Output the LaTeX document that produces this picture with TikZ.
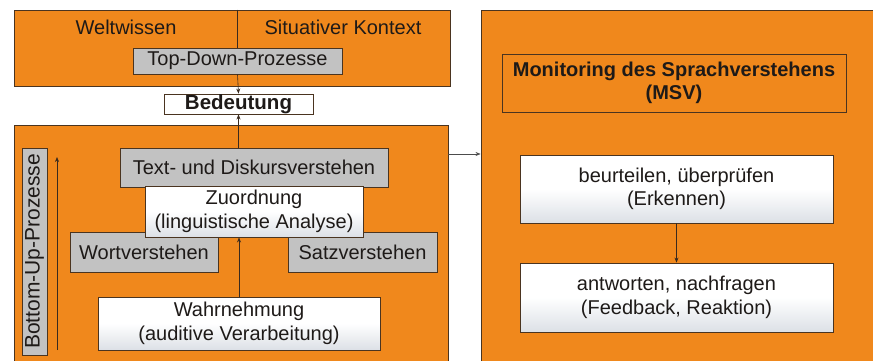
\documentclass[tikz,border=0pt]{standalone}
\usepackage{fontspec}
\setmainfont{Liberation Sans}
\usetikzlibrary{arrows.meta}
\definecolor{org}{HTML}{F0881C}
\definecolor{bord}{HTML}{4A3420}
\definecolor{grayfill}{HTML}{C2C2C2}
\definecolor{wbot}{HTML}{DCE0E6}
\definecolor{arr}{HTML}{3A2A1E}
\definecolor{txtc}{HTML}{1E1A18}
\tikzset{
  base/.style={draw=bord, line width=0.9pt, inner sep=0pt, align=center, text=txtc,
    font=\fontsize{20}{23.5}\selectfont},
  orangebox/.style={base, fill=org},
  graybox/.style={base, fill=grayfill},
  whitebox/.style={base, top color=white, bottom color=wbot, middle color=white},
  plain/.style={inner sep=0pt, text=txtc, font=\fontsize{20}{23.5}\selectfont},
  conn/.style={draw=arr, line width=0.6pt, -{Stealth[length=5pt,width=4pt]}},
}
\begin{document}
\begin{tikzpicture}[x=1pt,y=-1pt]
\useasboundingbox (0,0) rectangle (873,360);
\clip (0,0) rectangle (873,360);
\fill[white] (0,0) rectangle (873,360);
% top box
\node[orangebox, minimum width=436pt, minimum height=76pt] (top) at (232,48) {};
\node[plain] (welt) at (126,27) {Weltwissen};
\node[plain] (sit) at (343,27) {Situativer Kontext};
\node[graybox, minimum width=209pt, minimum height=26pt] (td) at (237.5,61) {Top-Down-Prozesse};
\draw[draw=arr, line width=0.8pt] (top.north -| td.north) -- (td.north);
% Bedeutung
\node[base, fill=white, minimum width=149pt, minimum height=20pt, font=\fontsize{20.5}{23}\selectfont\bfseries] (bed) at (238.5,104) {Bedeutung};
% bottom-left box
\node[orangebox, minimum width=434pt, minimum height=250pt] (bl) at (231,250) {};
\node[graybox, minimum width=268pt, minimum height=39pt] (txt) at (254,167.5) {Text- und Diskursverstehen};
\node[graybox, minimum width=148pt, minimum height=40pt] (wort) at (144,252) {Wortverstehen};
\node[graybox, minimum width=149pt, minimum height=40pt] (satz) at (362.5,252) {Satzverstehen};
\node[whitebox, minimum width=218pt, minimum height=51pt] (zu) at (254,211.5) {Zuordnung\\(linguistische Analyse)};
\node[whitebox, minimum width=282pt, minimum height=53pt] (wahr) at (239,323.5) {Wahrnehmung\\(auditive Verarbeitung)};
\node[graybox, rotate=90, minimum width=207pt, minimum height=25pt, font=\fontsize{21}{23}\selectfont] (bu) at (34.5,251.5) {Bottom-Up-Prozesse};
\coordinate (bua) at (57,350);
\coordinate (bub) at (57,157);
\draw[conn] (bua) -- (bub);
% right box
\node[orangebox, minimum width=399pt, minimum height=365pt] (rb) at (680.5,192.5) {};
\node[orangebox, minimum width=344pt, minimum height=58pt, font=\fontsize{20}{23.5}\selectfont\bfseries] (msv) at (674,83) {Monitoring des Sprachverstehens\\(MSV)};
\node[whitebox, minimum width=313pt, minimum height=68pt] (beu) at (676.5,189) {beurteilen, überprüfen\\(Erkennen)};
\node[whitebox, minimum width=313pt, minimum height=69pt] (ant) at (676.5,297.5) {antworten, nachfragen\\(Feedback, Reaktion)};
% connectors
\draw[conn] (td.south) -- (bed.north);
\draw[conn] (txt.north -| bed.south) -- (bed.south);
\draw[conn] (wahr.north) -- (wahr.north |- zu.south);
\draw[conn] (beu.south -| ant.north) -- (ant.north);
\draw[conn, draw=black!70] (bl.east |- 0,154) -- (rb.west |- 0,154);
\end{tikzpicture}
\end{document}
